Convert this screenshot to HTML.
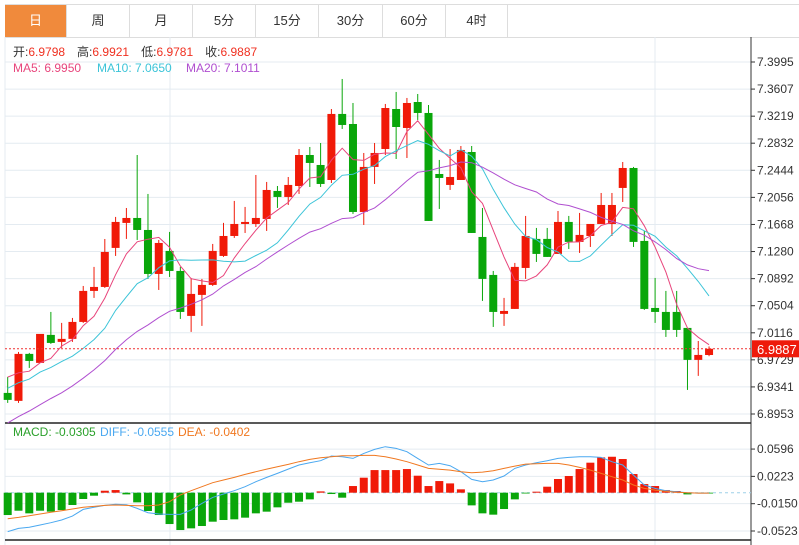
<!DOCTYPE html>
<html><head><meta charset="utf-8">
<style>
body{margin:0;background:#fff;font-family:"Liberation Sans","Noto Sans CJK SC",sans-serif;}
#wrap{position:relative;width:799px;height:545px;overflow:hidden;}
.tabs{position:absolute;left:5px;top:4px;width:794px;height:32px;border-top:1px solid #ddd;border-bottom:1px solid #ddd;}
.tab{position:absolute;top:0;height:32px;line-height:32px;text-align:center;font-size:13px;color:#333;border-right:1px solid #ddd;box-sizing:border-box;}
.tab.active{background:#f08a3c;color:#fff;}
svg{position:absolute;left:0;top:0;}
</style></head><body>
<div id="wrap">
<div class="tabs">
<div class="tab active" style="left:0;width:62px">日</div>
<div class="tab" style="left:62px;width:63px">周</div>
<div class="tab" style="left:125px;width:63px">月</div>
<div class="tab" style="left:188px;width:63px">5分</div>
<div class="tab" style="left:251px;width:63px">15分</div>
<div class="tab" style="left:314px;width:64px">30分</div>
<div class="tab" style="left:378px;width:63px">60分</div>
<div class="tab" style="left:441px;width:62px">4时</div>
</div>
<svg id="chart" width="799" height="545"></svg>
</div>
<script>
const opens=[6.9255,6.9141,6.9814,6.9685,7.0086,6.9986,7.0029,7.0272,7.0716,7.0773,7.1332,7.1690,7.1761,7.1589,7.0959,7.1289,7.1002,7.0358,7.0659,7.0802,7.1217,7.1503,7.1675,7.1675,7.1747,7.2148,7.2062,7.2219,7.2663,7.2520,7.2305,7.3251,7.3107,7.1847,7.2492,7.2749,7.3322,7.3050,7.3422,7.3265,7.2391,7.2234,7.2305,7.2706,7.1489,7.0945,7.0387,7.0458,7.1045,7.1461,7.1461,7.1246,7.1704,7.1418,7.1503,7.1675,7.1675,7.2191,7.2477,7.1432,7.0472,7.0415,7.0415,7.0186,6.9728,6.9798];
const highs=[6.9484,6.9842,6.9828,7.0000,7.0415,7.0258,7.0329,7.0787,7.1060,7.1460,7.1776,7.1904,7.2663,7.2105,7.1446,7.1561,7.1060,7.0902,7.0888,7.1389,7.1690,7.2005,7.1919,7.2377,7.2277,7.2219,7.2348,7.2749,7.2778,7.2835,7.3322,7.3752,7.3408,7.2692,7.2835,7.3394,7.3566,7.3480,7.3537,7.3379,7.2592,7.2749,7.2792,7.2792,7.1904,7.1002,7.0616,7.1117,7.1790,7.1618,7.1618,7.1861,7.1790,7.1833,7.1675,7.2119,7.2119,7.2563,7.2492,7.1575,7.0902,7.0716,7.0716,7.0186,6.9999,6.9921];
const lows=[6.9112,6.9112,6.9613,6.9685,6.9957,6.9900,6.9986,7.0258,7.0616,7.0759,7.1217,7.1461,7.1446,7.0888,7.0730,7.0916,7.0315,7.0129,7.0215,7.0787,7.1203,7.1475,7.1546,7.1632,7.1575,7.1905,7.1947,7.2105,7.2205,7.2205,7.2262,7.3036,7.1819,7.1661,7.2248,7.2663,7.2606,7.2620,7.3165,7.1718,7.1890,7.2162,7.2305,7.1546,7.0573,7.0200,7.0215,7.0458,7.0888,7.1131,7.1203,7.1246,7.1317,7.1260,7.1346,7.1675,7.1503,7.1990,7.1346,7.0444,7.0258,7.0057,7.0057,6.9298,6.9499,6.9781];
const closes=[6.9155,6.9814,6.9713,7.0100,6.9971,7.0029,7.0272,7.0716,7.0773,7.1274,7.1704,7.1761,7.1589,7.0959,7.1403,7.1002,7.0415,7.0673,7.0802,7.1289,7.1503,7.1675,7.1704,7.1761,7.2162,7.2062,7.2234,7.2663,7.2549,7.2248,7.3251,7.3093,7.1847,7.2492,7.2692,7.3336,7.3064,7.3408,7.3265,7.1718,7.2334,7.2348,7.2735,7.1546,7.0888,7.0415,7.0429,7.1060,7.1503,7.1246,7.1203,7.1704,7.1418,7.1518,7.1675,7.1947,7.1947,7.2477,7.1418,7.0458,7.0415,7.0157,7.0157,6.9728,6.9799,6.9887];
const priorCloses=[6.80,6.81,6.83,6.82,6.84,6.83,6.85,6.84,6.86,6.85,6.90,6.92,6.91,6.93,6.92,6.95,6.96,6.95,6.965];
const priceTicks=[7.3995,7.3607,7.3219,7.2832,7.2444,7.2056,7.1668,7.1280,7.0892,7.0504,7.0116,6.9729,6.9341,6.8953];
const macdHist=[-0.0305,-0.0246,-0.0282,-0.0246,-0.0259,-0.0237,-0.0168,-0.0086,-0.0041,0.0027,0.0036,-0.0023,-0.0132,-0.0250,-0.0305,-0.0428,-0.0510,-0.0487,-0.0455,-0.0396,-0.0373,-0.0364,-0.0341,-0.0282,-0.0259,-0.0200,-0.0137,-0.0123,-0.0091,0.0018,-0.0018,-0.0068,0.0091,0.0205,0.0309,0.0309,0.0309,0.0323,0.0232,0.0091,0.0159,0.0127,0.0046,-0.0173,-0.0282,-0.0300,-0.0223,-0.0091,-0.0009,0.0014,0.0082,0.0187,0.0228,0.0323,0.0410,0.0482,0.0491,0.0460,0.0255,0.0118,0.0091,0.0036,0.0023,-0.0023,-0.0005,-0.0003];
const diffVals=[-0.0532,-0.0487,-0.0473,-0.0441,-0.0410,-0.0373,-0.0319,-0.0228,-0.0200,-0.0173,-0.0159,-0.0164,-0.0214,-0.0273,-0.0291,-0.0296,-0.0296,-0.0237,-0.0146,-0.0064,-0.0018,0.0027,0.0082,0.0150,0.0209,0.0264,0.0323,0.0378,0.0410,0.0437,0.0501,0.0491,0.0469,0.0537,0.0592,0.0628,0.0605,0.0560,0.0469,0.0378,0.0400,0.0369,0.0287,0.0182,0.0150,0.0173,0.0228,0.0332,0.0378,0.0410,0.0437,0.0469,0.0482,0.0491,0.0491,0.0482,0.0423,0.0378,0.0241,0.0105,0.0059,0.0027,0.0014,0,-0.0005,-0.0005];
const deaVals=[-0.0355,-0.0337,-0.0314,-0.0291,-0.0268,-0.0246,-0.0223,-0.0200,-0.0187,-0.0173,-0.0168,-0.0173,-0.0177,-0.0177,-0.0168,-0.0123,-0.0032,0.0027,0.0082,0.0137,0.0173,0.0209,0.0250,0.0287,0.0323,0.0355,0.0387,0.0423,0.0455,0.0478,0.0491,0.0505,0.0505,0.0510,0.0510,0.0491,0.0460,0.0423,0.0378,0.0332,0.0319,0.0309,0.0287,0.0273,0.0282,0.0300,0.0332,0.0364,0.0391,0.0396,0.0400,0.0400,0.0378,0.0346,0.0309,0.0264,0.0218,0.0173,0.0105,0.0059,0.0036,0.0018,0.0005,0,-0.0005,-0.0005];
const macdTicks=[0.0596,0.0223,-0.0150,-0.0523];
const lastPrice=6.9887;

const NS="http://www.w3.org/2000/svg";
const svg=document.getElementById('chart');
function el(tag,attrs,parent){const e=document.createElementNS(NS,tag);for(const k in attrs)e.setAttribute(k,attrs[k]);(parent||svg).appendChild(e);return e;}
const X0=5,X1=751;
function xAt(i){return 7.7+i*10.79;}
function yP(v){return 62+(7.3995-v)*(352/0.5042);}
function yM(v){return 492.7-v/0.001366;}
const RED="#f01a08",GREEN="#09a60a";

priceTicks.forEach(t=>{
  const y=yP(t);
  const g=el('line',{x1:X0,x2:X1,y1:y,y2:y,stroke:"#e4ebf1","stroke-width":1});
  
  const tk=el('line',{x1:X1,x2:X1+4,y1:y,y2:y,stroke:"#333"});
  
  const tx=el('text',{x:757,y:y+4,"font-size":12,fill:"#333"});tx.textContent=t.toFixed(4);
  
});
macdTicks.forEach(t=>{
  const y=yM(t);
  const g=el('line',{x1:X0,x2:X1,y1:y,y2:y,stroke:"#e4ebf1"});
  
  el('line',{x1:X1,x2:X1+4,y1:y,y2:y,stroke:"#333"});
  const tx=el('text',{x:757,y:y+4,"font-size":12,fill:"#333"});tx.textContent=t.toFixed(4);
  
});
[170,655].forEach(x=>{el('line',{x1:x,x2:x,y1:37,y2:545,stroke:"#e4ebf1"});});
el('line',{x1:X0,x2:X0,y1:37,y2:545,stroke:"#e4ebf1"});
el('line',{x1:X1,x2:X1,y1:37,y2:545,stroke:"#333"});
el('line',{x1:X0,x2:X1,y1:423,y2:423,stroke:"#222","stroke-width":1.5});
el('line',{x1:X0,x2:X1,y1:540,y2:540,stroke:"#222","stroke-width":1.5});
const zl=el('line',{x1:X0,x2:X1,y1:yM(0),y2:yM(0),stroke:"#9dd0e8","stroke-dasharray":"3,3"});


for(let i=0;i<closes.length;i++){
  const up=closes[i]>=opens[i];const c=up?RED:GREEN;const x=xAt(i);
  const w=el('line',{x1:x,x2:x,y1:yP(highs[i]),y2:yP(lows[i]),stroke:c,"stroke-width":1});
  
  const top=yP(Math.max(opens[i],closes[i])),bot=yP(Math.min(opens[i],closes[i]));
  const b=el('rect',{x:x-4,y:top,width:8,height:Math.max(1.5,bot-top),fill:c});
  
}
const all=priorCloses.concat(closes);
function ma(n){return closes.map((_,i)=>{const j=i+priorCloses.length;let s=0;for(let k=j-n+1;k<=j;k++)s+=all[k];return s/n;});}
[[5,"#e8457c",'ma5-line'],[10,"#3cc4d8",'ma10-line'],[20,"#b04fd0",'ma20-line']].forEach(([n,c,name])=>{
  const m=ma(n);const p=m.map((v,i)=>xAt(i).toFixed(1)+","+yP(v).toFixed(1)).join(" ");
  const pl=el('polyline',{points:p,fill:"none",stroke:c,"stroke-width":1});
  
});
const ly=yP(lastPrice);
const lp=el('line',{x1:X0,x2:X1,y1:ly,y2:ly,stroke:"#f03030","stroke-dasharray":"2,2"});

const tag=el('rect',{x:752,y:ly-8.5,width:47,height:17,fill:"#ee1a0a"});

const tt=el('text',{x:757,y:ly+5,"font-size":13,fill:"#fff"});tt.textContent=lastPrice.toFixed(4);


for(let i=0;i<macdHist.length;i++){
  const v=macdHist[i];const y0=yM(0),y1=yM(v);
  const r=el('rect',{x:xAt(i)-4,y:Math.min(y0,y1),width:8,height:Math.max(0.8,Math.abs(y1-y0)),fill:v>=0?RED:GREEN});
  
}
[[diffVals,"#4aa8f0",'diff-line'],[deaVals,"#f07820",'dea-line']].forEach(([arr,c,name])=>{
  const p=arr.map((v,i)=>xAt(i).toFixed(1)+","+yM(v).toFixed(1)).join(" ");
  const pl=el('polyline',{points:p,fill:"none",stroke:c,"stroke-width":1});
  
});
</script>
<svg width="799" height="545" style="position:absolute;left:0;top:0;pointer-events:none">
<g font-size="12" font-family="Liberation Sans, Noto Sans CJK SC, sans-serif">
<text x="13" y="56"><tspan fill="#333">开:</tspan><tspan fill="#f03020">6.9798</tspan><tspan fill="#333" dx="12">高:</tspan><tspan fill="#f03020">6.9921</tspan><tspan fill="#333" dx="12">低:</tspan><tspan fill="#f03020">6.9781</tspan><tspan fill="#333" dx="12">收:</tspan><tspan fill="#f03020">6.9887</tspan></text>
<text x="13" y="72" fill="#e8457c">MA5: 6.9950</text>
<text x="97" y="72" fill="#3cc4d8">MA10: 7.0650</text>
<text x="186" y="72" fill="#b04fd0">MA20: 7.1011</text>
<text x="13" y="436" fill="#2aa02a">MACD: -0.0305</text>
<text x="100" y="436" fill="#4aa8f0">DIFF: -0.0555</text>
<text x="178" y="436" fill="#f07820">DEA: -0.0402</text>
</g></svg>
</body></html>
